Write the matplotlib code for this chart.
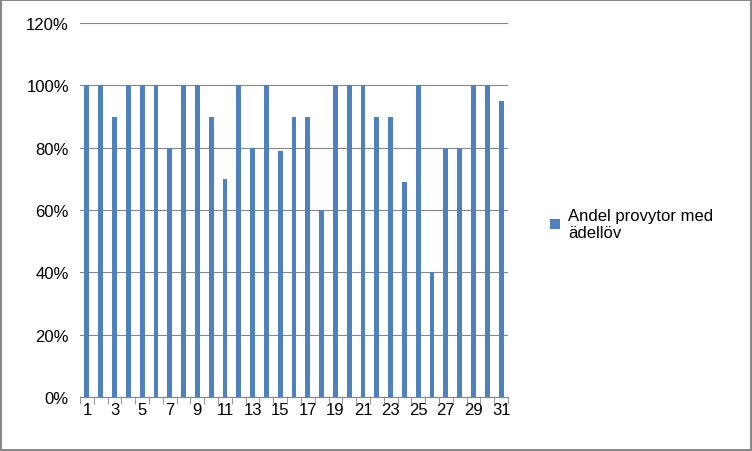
import matplotlib.pyplot as plt
from matplotlib.ticker import PercentFormatter

days = list(range(1, 32))
andel = [100, 100, 90, 100, 100, 100, 80, 100, 100, 90, 70, 100, 80, 100, 79, 90,
         90, 60, 100, 100, 100, 90, 90, 69, 100, 40, 80, 80, 100, 100, 95]
tick_labels = [str(d) if d % 2 == 1 else '' for d in days]

plt.rcParams['font.family'] = ['Liberation Sans', 'DejaVu Sans']

fig = plt.figure(figsize=(7.52, 4.52), dpi=100)
fig.patch.set_edgecolor('#888888')
fig.patch.set_linewidth(1.5)
ax = fig.add_axes([80 / 752, 54 / 452, 428 / 752, 374 / 452])

ax.bar(days, andel, width=0.35, color='#4F81BD', label='Andel provytor med\nädellöv', zorder=3)
ax.set_xlim(0.5, 31.5)
ax.set_ylim(0, 120)
ax.set_yticks(range(0, 121, 20))
ax.yaxis.set_major_formatter(PercentFormatter(decimals=0))
ax.set_xticks(days)
ax.set_xticklabels(tick_labels)
ax.grid(axis='y', color='#868686', linewidth=0.8, zorder=0)
for s in ['top', 'right', 'left']:
    ax.spines[s].set_visible(False)
ax.spines['bottom'].set_color('#868686')
ax.tick_params(axis='y', length=0, labelsize=12, pad=8)
ax.tick_params(axis='x', length=4, color='#868686', labelsize=12)
ax.set_xticks([d + 0.5 for d in range(0, 32)], minor=True)
ax.tick_params(axis='x', which='major', length=0)
ax.tick_params(axis='x', which='minor', length=5, color='#868686')

fig.legend(loc='center left', bbox_to_anchor=(535 / 752, 1 - 225 / 452), frameon=False,
           fontsize=12, handlelength=0.6, handleheight=0.6, handletextpad=0.5)

fig.savefig('out.png', dpi=100, edgecolor=fig.get_edgecolor())
